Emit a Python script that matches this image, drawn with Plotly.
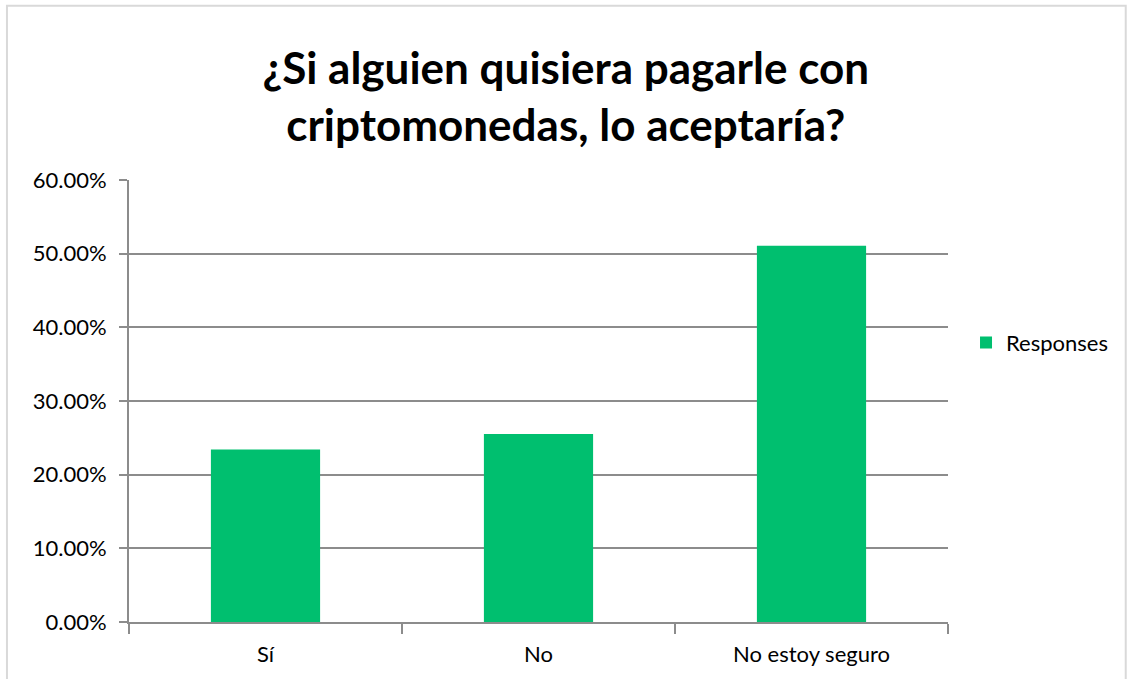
import plotly.graph_objects as go

categories = ["Sí", "No", "No estoy seguro"]
values = [0.2340, 0.2553, 0.5106]
series_name = "Responses"
title_text = "¿Si alguien quisiera pagarle con<br>criptomonedas, lo aceptaría?"

FONT = "Lato, 'Open Sans', sans-serif"
GRID = "#8c8c8c"

fig = go.Figure()
fig.add_trace(go.Bar(x=categories, y=values, name=series_name,
                     marker=dict(color="#00BF6F", line=dict(width=0))))

fig.update_layout(
    width=1127, height=679,
    margin=dict(l=129, r=179, t=180, b=53),
    paper_bgcolor="white", plot_bgcolor="white",
    font=dict(family=FONT, size=22, color="#000000"),
    bargap=0.6,
    showlegend=True,
    title=dict(text="<b>" + title_text + "</b>", x=0.502, xanchor="center",
               y=0.876, yanchor="middle",
               font=dict(family=FONT, size=44, color="#000000")),
    legend=dict(x=1.022, xanchor="left", y=0.632, yanchor="middle",
                font=dict(size=22), bgcolor="rgba(0,0,0,0)"),
    xaxis=dict(showgrid=False, showline=True, linecolor=GRID, linewidth=2,
               ticks="outside", tickson="boundaries", ticklen=10, tickcolor=GRID,
               tickwidth=2, tickfont=dict(size=22), ticklabelstandoff=12),
    yaxis=dict(range=[0, 0.6], dtick=0.1, tickformat=".2%", showgrid=True,
               gridcolor=GRID, gridwidth=2, showline=True, linecolor=GRID,
               linewidth=2, ticks="outside", ticklen=8, tickcolor=GRID,
               tickwidth=2, tickfont=dict(size=22), ticklabelstandoff=8,
               zeroline=False),
    shapes=[dict(type="rect", xref="paper", yref="paper",
                 x0=-0.149, x1=1.217, y0=-0.3, y1=1.394,
                 line=dict(color="#d9d9d9", width=2), fillcolor="rgba(0,0,0,0)",
                 layer="below")],
)

fig.write_html("out.html", config={"displayModeBar": False},
               post_script="document.body.style.margin='0';document.body.style.padding='0';")
